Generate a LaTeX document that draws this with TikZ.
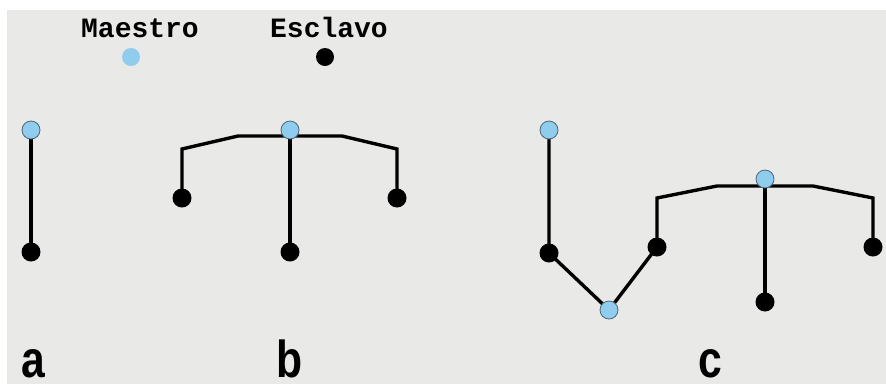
\documentclass[tikz,border=0pt]{standalone}
\usepackage{fontspec}
\setmainfont{Liberation Sans}
\newfontfamily\legendfont{Liberation Mono}
\newfontfamily\tagfont[FakeStretch=0.82]{Liberation Sans}
\usetikzlibrary{backgrounds}
\definecolor{panelgray}{HTML}{E9E9E8}
\definecolor{masterblue}{HTML}{8FCDEE}
\definecolor{masteredge}{HTML}{4D6675}
\tikzset{
  master/.style={circle, fill=masterblue, draw=masteredge, line width=0.8pt,
    minimum size=18pt, inner sep=0pt},
  slave/.style={circle, fill=black, minimum size=19pt, inner sep=0pt},
  keymaster/.style={circle, fill=masterblue, minimum size=18pt, inner sep=0pt},
  keyslave/.style={circle, fill=black, minimum size=18pt, inner sep=0pt},
  wire/.style={line width=3.4pt, line join=miter},
  legend/.style={font=\legendfont\bfseries\fontsize{28}{30}\selectfont, anchor=base, inner sep=0pt},
  tag/.style={font=\tagfont\bfseries\fontsize{52}{56}\selectfont, anchor=base,
    inner sep=0pt, text depth=0pt},
}
\begin{document}
\begin{tikzpicture}[x=1pt, y=-1pt]
\useasboundingbox (0,0) rectangle (886,384);

% legend
\node[legend] (maestro) at (140,37) {Maestro};
\node[legend] (esclavo) at (329,37) {Esclavo};
\node[keymaster] (kmaster) at (131,57) {};
\node[keyslave] (kslave) at (325,57) {};

% (a) one master, one slave
\node[master] (a0) at (31,130) {};
\node[slave]  (a1) at (31,252) {};

% (b) one master, three slaves
\node[master] (b0) at (290,130) {};
\node[slave]  (bl) at (182,198) {};
\node[slave]  (bm) at (290,252) {};
\node[slave]  (br) at (397,198) {};
\coordinate (bl1) at (238,136);
\coordinate (bl2) at (182,149);
\coordinate (br1) at (342,136);
\coordinate (br2) at (397,149);
\coordinate (bj) at (290,136);

% (c) chained masters
\node[master] (c0) at (549,130) {};
\node[slave]  (c1) at (549,253) {};
\node[master] (c2) at (609,310) {};
\node[slave]  (c3) at (657,247) {};
\node[master] (c4) at (765,179) {};
\node[slave]  (c5) at (765,302) {};
\node[slave]  (c6) at (873,247) {};
\coordinate (cl1) at (657,198);
\coordinate (cl2) at (717,186);
\coordinate (cr1) at (813,186);
\coordinate (cr2) at (873,198);
\coordinate (cj) at (765,186);

% panel labels
\node[tag] (ta) at (33,377) {a};
\node[tag] (tb) at (290,377) {b};
\node[tag] (tc) at (710,377) {c};

\begin{scope}[on background layer]
  \fill[panelgray] (7,10) rectangle (886,384);
  \draw[wire] (a0.center) -- (a1.center);
  \draw[wire] (b0.center) -- (bm.center);
  \draw[wire] (bl.center) -- (bl2) -- (bl1) -- (bj) -- (br1) -- (br2) -- (br.center);
  \draw[wire] (c0.center) -- (c1.center) -- (c2.center) -- (c3.center);
  \draw[wire] (c3.center) -- (cl1) -- (cl2) -- (cj) -- (cr1) -- (cr2) -- (c6.center);
  \draw[wire] (c4.center) -- (c5.center);
\end{scope}
\end{tikzpicture}
\end{document}
